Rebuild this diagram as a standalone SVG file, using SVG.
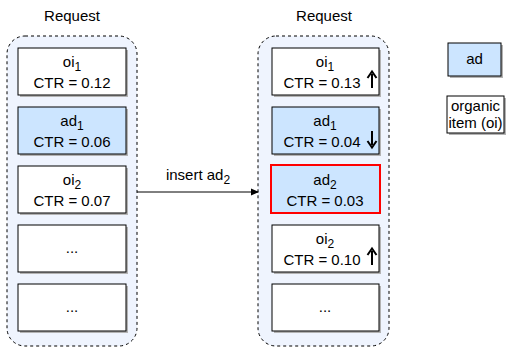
<svg xmlns="http://www.w3.org/2000/svg" width="509" height="350" viewBox="0 0 509 350">
<defs>
<style>
.t{font-family:"Liberation Sans",Arial,sans-serif;font-size:15px;fill:#000;text-anchor:middle}
.s{font-size:12px}
.cont{fill:#eff4fe;stroke:#000;stroke-width:1;stroke-dasharray:3 3}
.box{stroke:#000;stroke-width:1}
.w{fill:#fff}
.b{fill:#cce5ff}
.sh{fill:#b3b3b3}
</style>
<marker id="ah" markerWidth="8" markerHeight="8" refX="7" refY="4" orient="auto" markerUnits="userSpaceOnUse">
<path d="M0,0.5 L8,4 L0,7.5 Z" fill="#000"/>
</marker>
</defs>
<rect width="509" height="350" fill="#fff"/>

<g id="left-request">
<text class="t" x="72" y="21">Request</text>
<rect class="cont" x="7" y="36" width="130" height="310" rx="18"/>
</g>
<g id="right-request">
<text class="t" x="324" y="21">Request</text>
<rect class="cont" x="258" y="36" width="131" height="310" rx="18"/>
</g>

<g id="l-oi1">
<rect class="sh" x="20" y="50" width="108" height="47"/>
<rect class="box w" x="18" y="48" width="108" height="47"/>
<text class="t" x="72" y="67">oi<tspan class="s" dy="4">1</tspan></text>
<text class="t" x="72" y="88">CTR = 0.12</text>
</g>
<g id="l-ad1">
<rect class="sh" x="20" y="109" width="108" height="47"/>
<rect class="box b" x="18" y="107" width="108" height="47"/>
<text class="t" x="72" y="126">ad<tspan class="s" dy="4">1</tspan></text>
<text class="t" x="72" y="147">CTR = 0.06</text>
</g>
<g id="l-oi2">
<rect class="sh" x="20" y="168" width="108" height="47"/>
<rect class="box w" x="18" y="166" width="108" height="47"/>
<text class="t" x="72" y="185">oi<tspan class="s" dy="4">2</tspan></text>
<text class="t" x="72" y="206">CTR = 0.07</text>
</g>
<g id="l-dots1">
<rect class="sh" x="20" y="227" width="108" height="47"/>
<rect class="box w" x="18" y="225" width="108" height="47"/>
<text class="t" x="72" y="253">...</text>
</g>
<g id="l-dots2">
<rect class="sh" x="20" y="286" width="108" height="47"/>
<rect class="box w" x="18" y="284" width="108" height="47"/>
<text class="t" x="72" y="312">...</text>
</g>

<g id="r-oi1">
<rect class="sh" x="274" y="50" width="107" height="47"/>
<rect class="box w" x="272" y="48" width="107" height="47"/>
<text class="t" x="325" y="67">oi<tspan class="s" dy="4">1</tspan></text>
<text class="t" x="322" y="88">CTR = 0.13</text>
<path d="M372,88 V74" stroke="#000" stroke-width="2"/>
<path d="M367.5,78 L372,71.5 L376.5,78" fill="none" stroke="#000" stroke-width="2"/>
</g>
<g id="r-ad1">
<rect class="sh" x="274" y="109" width="107" height="47"/>
<rect class="box b" x="272" y="107" width="107" height="47"/>
<text class="t" x="325" y="126">ad<tspan class="s" dy="4">1</tspan></text>
<text class="t" x="322" y="147">CTR = 0.04</text>
<path d="M372,131 V145" stroke="#000" stroke-width="2"/>
<path d="M367.5,141 L372,147.5 L376.5,141" fill="none" stroke="#000" stroke-width="2"/>
</g>
<g id="r-ad2">
<rect class="box b" x="271" y="165" width="109" height="48" style="stroke:#ff0000;stroke-width:2"/>
<text class="t" x="325" y="185">ad<tspan class="s" dy="4">2</tspan></text>
<text class="t" x="325" y="206">CTR = 0.03</text>
</g>
<g id="r-oi2">
<rect class="sh" x="274" y="227" width="107" height="47"/>
<rect class="box w" x="272" y="225" width="107" height="47"/>
<text class="t" x="325" y="244">oi<tspan class="s" dy="4">2</tspan></text>
<text class="t" x="322" y="265">CTR = 0.10</text>
<path d="M372,265 V251" stroke="#000" stroke-width="2"/>
<path d="M367.5,255 L372,248.5 L376.5,255" fill="none" stroke="#000" stroke-width="2"/>
</g>
<g id="r-dots">
<rect class="sh" x="274" y="286" width="107" height="47"/>
<rect class="box w" x="272" y="284" width="107" height="47"/>
<text class="t" x="325" y="312">...</text>
</g>

<g id="legend-ad">
<rect class="sh" x="450" y="45" width="53" height="33"/>
<rect class="box b" x="448" y="43" width="53" height="33"/>
<text class="t" x="474.5" y="64">ad</text>
</g>
<g id="legend-oi">
<rect class="sh" x="449" y="98" width="57" height="37"/>
<rect class="box w" x="447" y="96" width="57" height="37"/>
<text class="t" x="475.5" y="111">organic</text>
<text class="t" x="475.5" y="128">item (oi)</text>
</g>

<g id="connectors">
<path d="M137,192 H258" stroke="#000" stroke-width="1" fill="none" marker-end="url(#ah)"/>
<text class="t" x="198" y="180">insert ad<tspan class="s" dy="4">2</tspan></text>
</g>
</svg>
